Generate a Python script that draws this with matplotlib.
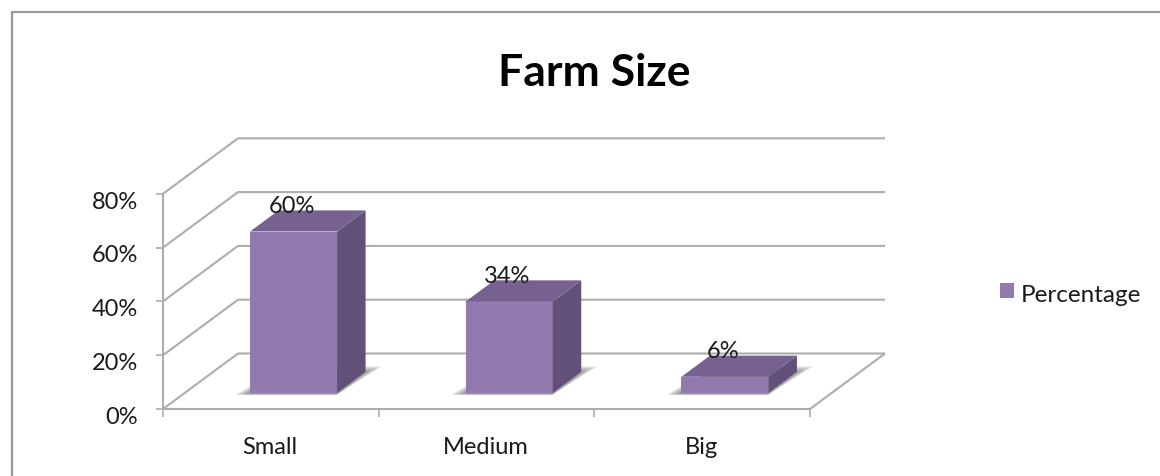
import matplotlib
matplotlib.use("Agg")
import matplotlib.pyplot as plt
from matplotlib.patches import Polygon, Rectangle
from matplotlib.lines import Line2D

categories = ["Small", "Medium", "Big"]
values = [60, 34, 6]
y_ticks = [0, 20, 40, 60, 80]

W, H = 1160, 476
plt.rcParams["font.family"] = ["Lato", "DejaVu Sans"]

fig = plt.figure(figsize=(W / 100, H / 100), dpi=100)
fig.patch.set_facecolor("white")

# pixel box of the floor + back wall
left, right, bottom, top = 163, 886, 409, 138
ax = fig.add_axes([left / W, 1 - bottom / H, (right - left) / W, (bottom - top) / H])
x_unit = (810 - 163) / 3
y_unit = 2.69
ax.set_xlim(0, (right - left) / x_unit)
ax.set_ylim(0, (bottom - top) / y_unit)
ax.axis("off")

# depth shear, data units
dx = 75 / x_unit
dy = 55.5 / y_unit
bar_w = 87 / x_unit
px = 1 / x_unit


def sh(x, y, d):
    return (x + dx * d, y + dy * d)


grid = "#adadad"
clip = dict(clip_on=False, solid_capstyle="butt")
text_c = "#1a1a1a"
fs = 17

# walls
for v in y_ticks:
    ax.plot(*zip(sh(0, v, 0), sh(0, v, 1), sh(3, v, 1)), color=grid, lw=1.5, zorder=1, **clip)
ax.plot(*zip(sh(3, 0, 1), sh(3, 0, 0), sh(0, 0, 0)), color=grid, lw=1.5, zorder=1, **clip)
ax.plot([0, 0], [0, 80], color=grid, lw=1.5, zorder=1, **clip)

# ticks
ty = 8 / y_unit
for v in y_ticks:
    ax.plot([-7 * px, 0], [v, v], color=grid, lw=1.2, **clip)
    ax.text(-25 * px, v - 3.1, f"{v}%", ha="right", va="center", fontsize=fs, color=text_c)
for i in range(4):
    ax.plot([i, i], [0, -ty], color=grid, lw=1.2, **clip)

# bars
front, side, top_c = "#9279ae", "#635079", "#776190"
d0, d1 = 0.29, 0.67
for i, (name, val) in enumerate(zip(categories, values)):
    x0 = i + 0.5 - bar_w / 2 + 1 * px
    x1 = x0 + bar_w
    # soft shadow on the floor, stacked layers fade out towards the rim
    for k in [1.0, 0.85, 0.7, 0.55, 0.4, 0.25, 0.1]:
        ax.add_patch(Polygon([sh(x0 - 13 * k * px, 0, d0 - 0.03), sh(x1 + 2 * px, 0, d0 - 0.03),
                              sh(x1 + 9 * k * px, 0, d1 + 0.1 * k), sh(x0, 0, d1 + 0.1 * k)],
                             fc="#555555", ec="none", alpha=0.11, zorder=2))
    ax.add_patch(Polygon([sh(x0, 0, d0), sh(x1, 0, d0), sh(x1, val, d0), sh(x0, val, d0)], fc=front, ec="none", zorder=3))
    ax.add_patch(Polygon([sh(x1, 0, d0), sh(x1, 0, d1), sh(x1, val, d1), sh(x1, val, d0)], fc=side, ec="none", zorder=3))
    ax.add_patch(Polygon([sh(x0, val, d0), sh(x1, val, d0), sh(x1, val, d1), sh(x0, val, d1)], fc=top_c, ec="none", zorder=3))
    lx, ly = sh((x0 + x1) / 2, val, d0)
    ax.text(lx - 2 * px, ly + 25 / y_unit, f"{val}%", ha="center", va="center", fontsize=fs, color=text_c, zorder=5)
    ax.text(i + 0.5 - 1 * px, -38.5 / y_unit, name, ha="center", va="center", fontsize=fs, color=text_c)

fig.text(594.5 / W, 1 - 73 / H, "Farm Size", ha="center", va="center", fontsize=32, fontweight="bold", color="black")

# legend
fig.patches.append(Rectangle((1000 / W, 1 - 298 / H), 14 / W, 15 / H, transform=fig.transFigure, fc=front, ec="none"))
fig.text(1021 / W, 1 - 295 / H, "Percentage", ha="left", va="center", fontsize=fs + 0.5, color=text_c)

# chart border, only top and left show in the crop
fig.add_artist(Line2D([12 / W, 12 / W, 1], [0, 1 - 12 / H, 1 - 12 / H], color="#999999", lw=1.6))

fig.savefig("out.png", dpi=100)
